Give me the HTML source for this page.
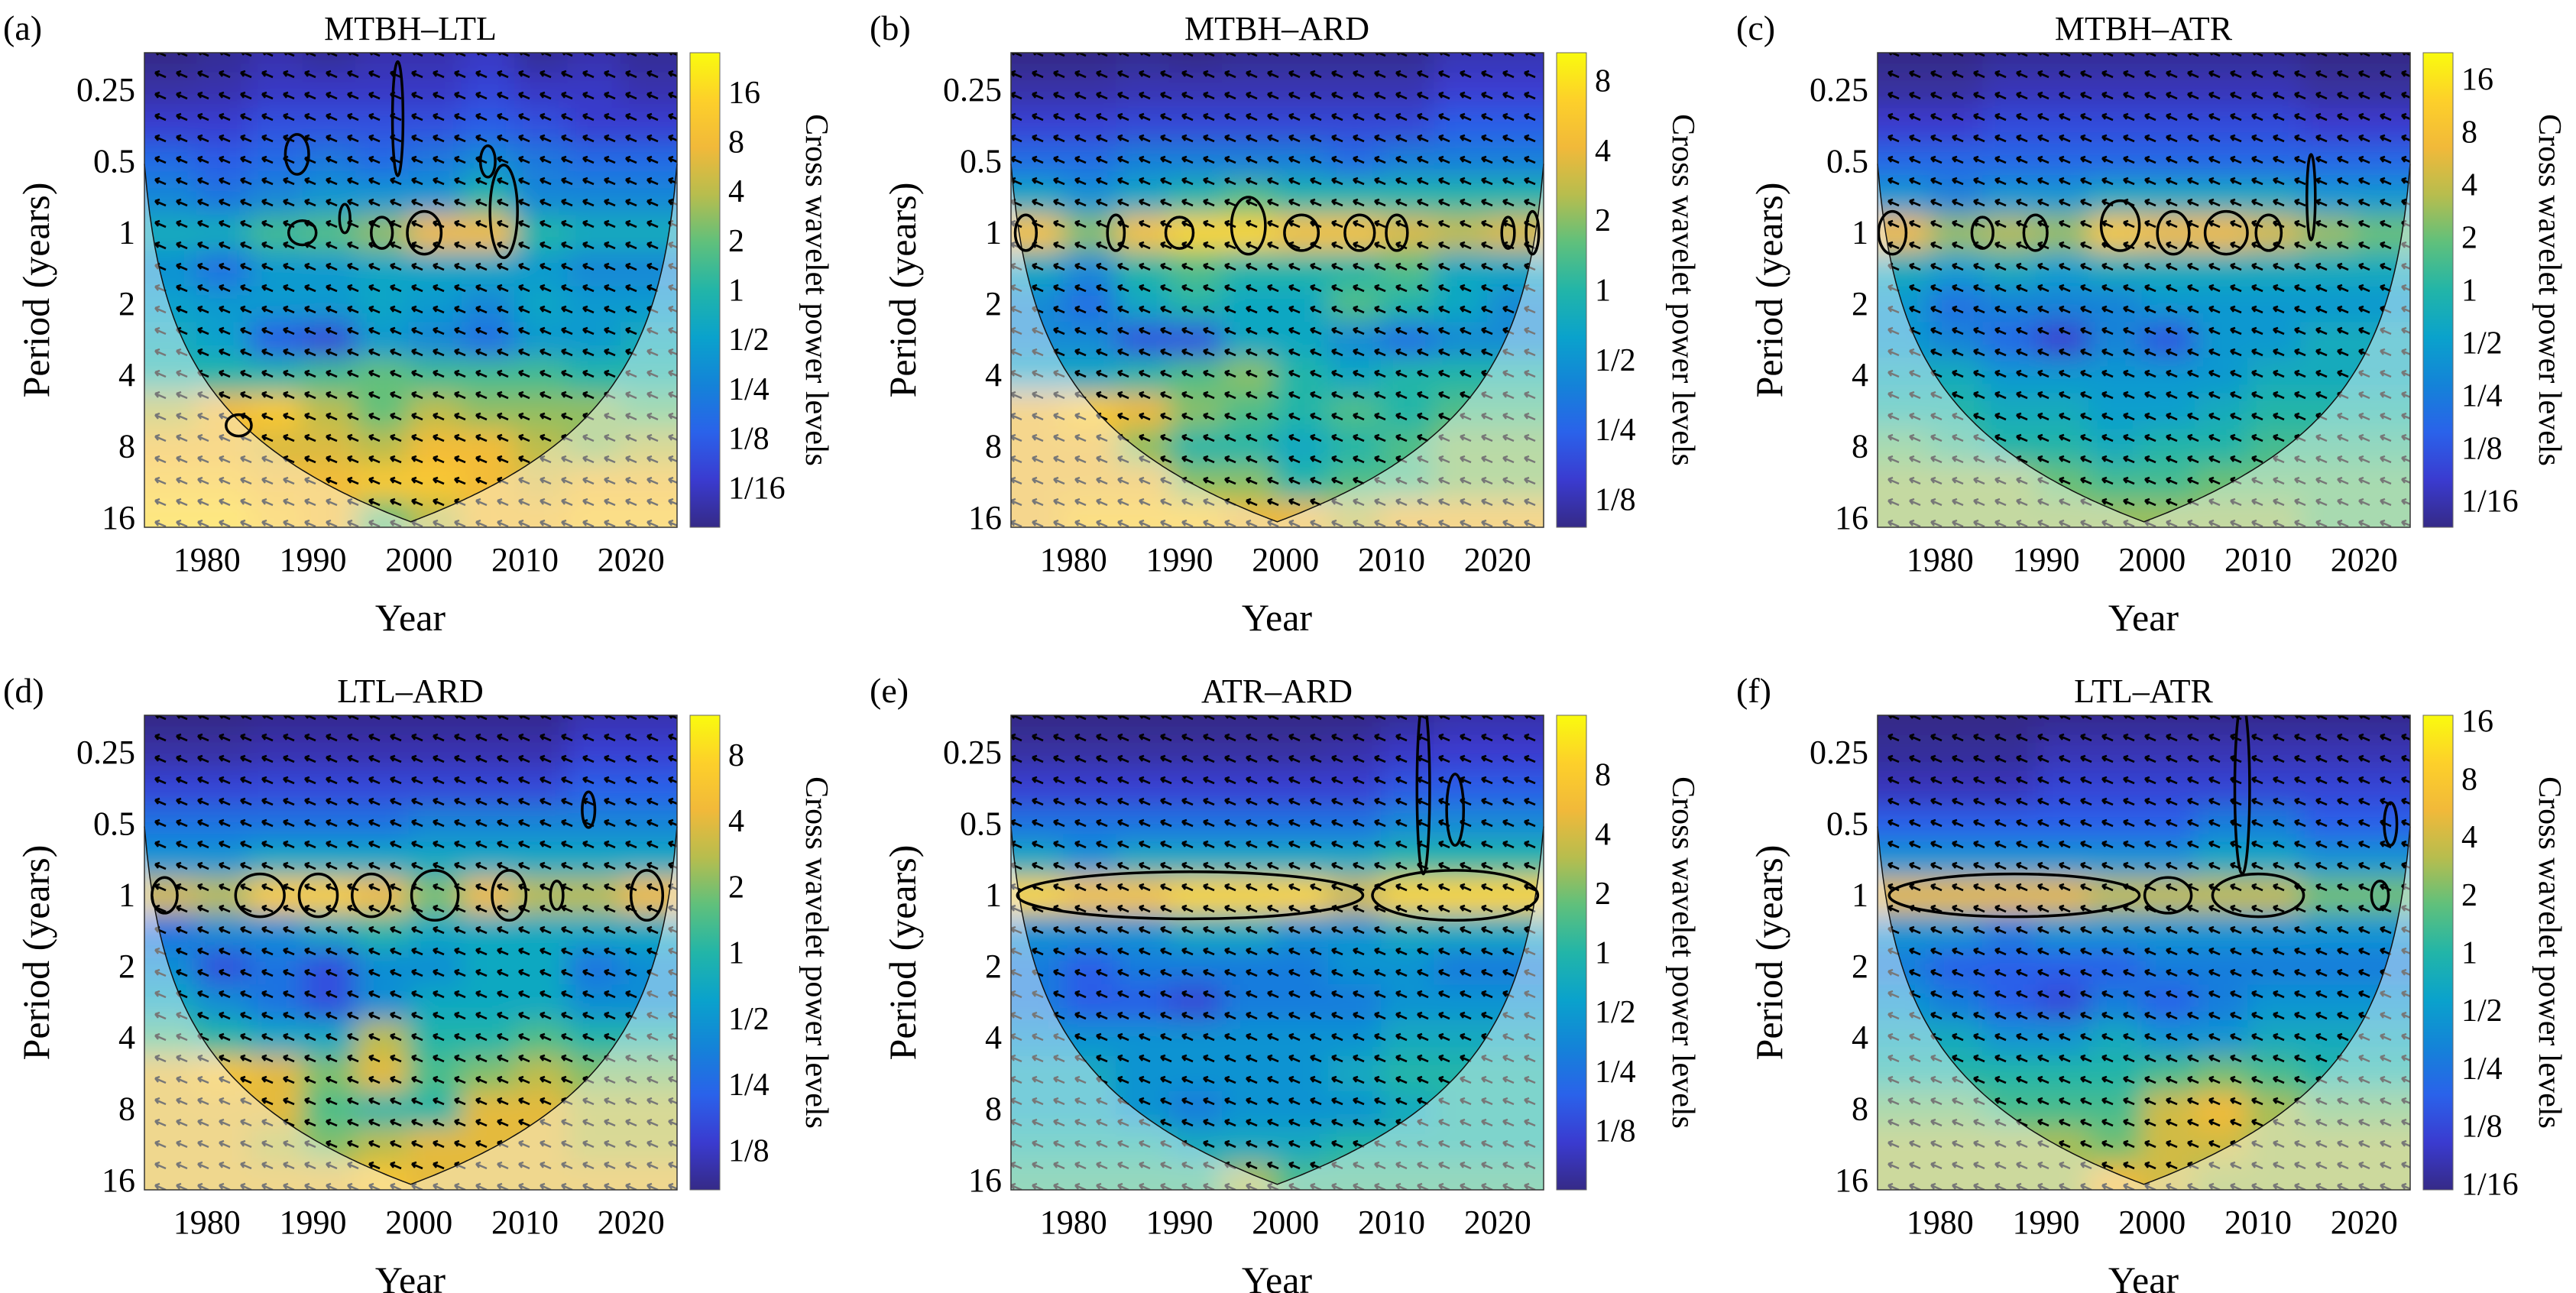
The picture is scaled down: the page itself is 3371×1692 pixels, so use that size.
<!DOCTYPE html>
<html><head><meta charset="utf-8"><style>
html,body{margin:0;padding:0;background:#fff;}
svg{display:block;}
svg text{font-family:"Liberation Serif","DejaVu Serif","Times New Roman",serif;}
</style></head><body>
<svg id="fig" width="3371" height="1692" viewBox="0 0 3371 1692" xmlns="http://www.w3.org/2000/svg">
<defs>
<filter id="blur" x="-5%" y="-5%" width="110%" height="110%"><feGaussianBlur stdDeviation="17 17"/></filter>
<pattern id="arrK" width="28" height="28" patternUnits="userSpaceOnUse"><path d="M21 17 L7 11 M7 11 L13 9 M7 11 L11 16" stroke="#000" stroke-width="2.6" fill="none"/></pattern>
<pattern id="arrG" width="28" height="28" patternUnits="userSpaceOnUse"><path d="M21 17 L7 11 M7 11 L13 9 M7 11 L11 16" stroke="#777" stroke-width="2.4" fill="none"/></pattern>
<linearGradient id="parulaV" x1="0" y1="1" x2="0" y2="0"></linearGradient>
</defs>
</svg>
<script>
// ---- data ----
const panelLetters = ['(a)','(b)','(c)','(d)','(e)','(f)'];
const panelTitles = ['MTBH\u2013LTL','MTBH\u2013ARD','MTBH\u2013ATR','LTL\u2013ARD','ATR\u2013ARD','LTL\u2013ATR'];
const yearTicks = [1980,1990,2000,2010,2020];
const periodTicks = [0.25,0.5,1,2,4,8,16];
const periodTickLabels = ['0.25','0.5','1','2','4','8','16'];
const colCenters = [1976.5,1981.5,1986.5,1991.5,1996.5,2001.5,2006.5,2011.5,2016.5,2021.5];
const rowLog2Periods = [-2.5,-2,-1.5,-1,-0.5,0,0.5,1,1.5,2,2.5,3,3.5,4];
const cbarTicksA = ['16','8','4','2','1','1/2','1/4','1/8','1/16'];
const cbarTicksB = ['8','4','2','1','1/2','1/4','1/8'];
const cbarTicksC = ['16','8','4','2','1','1/2','1/4','1/8','1/16'];
const cbarTicksD = ['8','4','2','1','1/2','1/4','1/8'];
const cbarTicksE = ['8','4','2','1','1/2','1/4','1/8'];
const cbarTicksF = ['16','8','4','2','1','1/2','1/4','1/8','1/16'];
const cbarRanges = [4.8,3.4,4.5,3.6,4.0,4.1];
const powerA = [
[-4.8,-4.6,-4.3,-4.6,-4.3,-4.3,-4,-4.6,-4.3,-4.6],[-4.4,-4.3,-4,-4,-4,-4,-3.6,-4,-4,-4.3],[-3.8,-3.8,-3.3,-3.3,-3.3,-3.3,-3,-3.3,-3.8,-3.8],
[-2.6,-3,-2.6,-2.2,-2.6,-2.2,-1.6,-2.2,-2.6,-2.6],[-1.8,-2.3,-1.8,-1.3,-1.3,-1.3,0,-1.8,-1.8,-1.8],[-0.5,-0.5,0.5,0.8,1.5,3,3,0,-0.5,-0.5],
[-1.5,-2.5,-1.2,-1.2,-0.8,-0.8,-0.8,-1.2,-1.8,-1.8],[-1,-1.2,-1.2,-1.2,-0.8,-1.2,-1.8,-0.8,-1.2,-1.2],[-0.5,-1,-3,-3.5,-1.2,-1.8,-2.5,-1.2,-1.2,-0.5],
[0,0,0,0.5,1,0.5,0.5,0.5,0,0],[2,3,3.5,2,1,2,1.5,1.5,1.5,1],[3,3,2.5,2.5,2,3,3,2,1.5,2],[3.5,3.5,3,3,3.5,3.5,3,2.5,3,3],[4,4,3.5,3,1,2,3,3,3.5,3.5]];
const powerB = [
[-3.4,-3.4,-3.3,-3.4,-3.3,-3.3,-3.3,-3.3,-3,-3],[-3.1,-3.1,-3,-3,-3,-3,-3,-3,-2.7,-2.7],[-2.6,-2.6,-2.5,-2.5,-2.5,-2.5,-2.5,-2.5,-2.1,-2.1],
[-1.8,-1.8,-1.4,-1.4,-1.4,-1.4,-1.8,-1.4,-1.4,-1.4],[-0.5,-1,-0.5,0,0.5,0,0,0,0,0],[2.3,1,2.3,2.8,2.8,2.3,2.3,1.8,1.5,1.8],
[-0.5,-1.2,0,0.5,0,0,0,0.5,-0.5,-0.5],[-1.2,-1.8,-0.5,0,-0.5,-0.5,0.5,0,-0.5,-1.2],[-1.2,-1.2,-2.3,-2.3,-0.5,-0.5,-1.2,-1.8,-1.2,-1.2],
[-0.5,-0.5,0,0.5,1,0,-0.5,0,0,0],[2,2.5,2,1,0.5,0,0.5,0,0.5,0.5],[2,2,1,0,0,-0.5,0,0.5,1,1],[2,2,2,1,1,0,0.5,0.5,1,1],[2,2.5,2.5,2.5,2,2,1.5,2,2,2]];
const powerC = [
[-4.5,-4.5,-4.3,-4.3,-4.3,-4.3,-4.3,-4.3,-4.5,-4.5],[-4.2,-4.2,-3.9,-3.9,-3.9,-3.9,-3.9,-3.9,-4.2,-4.2],[-3.6,-3.6,-3.2,-3.2,-3.2,-3.2,-3.2,-3.2,-3.6,-3.6],
[-2.5,-2.5,-2.5,-2.5,-2.5,-2.5,-2.5,-2.5,-2.5,-2.5],[-1.2,-1.8,-1.2,-1.2,-0.6,-0.6,-0.6,-0.6,-1.2,-1.2],[2.8,1.5,1.8,1.5,3.3,2.8,2.8,2.3,1.5,1],
[-0.5,-1,-0.5,-1,-0.5,-0.5,-0.5,-0.5,-0.5,-0.5],[-1.2,-2.3,-1.8,-1.8,-1.8,-1.2,-1.2,-1.2,-1.2,-1.2],[-1.2,-1.8,-2.5,-3.5,-1.8,-3,-1.2,-1.2,-0.5,-0.5],
[-0.5,-0.5,-1.2,-1.2,-1.2,-1.2,-1.2,-0.5,-0.5,-0.5],[0,0,-0.5,-0.5,-1,-1,-0.5,0,0,0],[1,0.5,0,0,-0.5,0,0,0.5,0.5,0.5],[1.5,1.5,1.5,1,0.5,0.5,1,1,1,1],[1.5,1.5,1.5,1.5,1.5,1.5,1.5,1.5,1,1]];
const powerD = [
[-3.6,-3.6,-3.5,-3.5,-3.5,-3.5,-3.5,-3.5,-3.2,-3.2],[-3.3,-3.3,-3.2,-3.2,-3.2,-3.2,-3.2,-3.2,-2.8,-2.8],[-2.7,-2.7,-2.6,-2.6,-2.6,-2.6,-2.6,-2.6,-2.2,-2.2],
[-1.8,-1.8,-1.8,-1.8,-1.8,-1.4,-1.4,-1.4,-1.4,-1.4],[-1,-1,-0.5,-0.5,-0.5,-0.5,-0.5,-0.5,-0.5,-0.5],[1.8,1.5,2.8,2.8,2.3,1,2.3,1.5,1.5,2.3],
[-1.8,-1.2,-1.2,-0.5,0,-0.5,-0.5,-0.5,-0.5,-0.5],[-1.2,-2.5,-1.8,-2.5,-1.2,-1.2,-0.5,-0.5,-1.8,-1.2],[-0.5,-1.2,-1.8,-2.5,-1.2,-0.5,-0.5,-0.5,-1.2,-1.2],
[0.5,0,-0.5,-0.5,1.5,0,0,0.5,0,0],[2,2.5,2,1,2,0.5,1,1.5,1,1],[2,2,2,0.5,0,0,2,2,1.5,1.5],[2,2,1.5,1,1.5,2,2,2,1.5,1.5],[2,2,2,2,2.5,2,2,2,2,2]];
const powerE = [
[-4,-4,-4,-4,-4,-4,-4,-3.8,-3.6,-3.6],[-3.7,-3.7,-3.7,-3.7,-3.7,-3.7,-3.6,-3.3,-3.2,-3.2],[-3.1,-3.1,-3.1,-3.1,-3.1,-3.1,-3.1,-2.6,-2.5,-2.5],
[-2,-2,-2,-2,-2,-2,-2,-1.4,-1.4,-1.4],[-0.5,-1.2,-0.5,-0.5,-0.5,-0.5,-0.5,0,0,0],[3.3,2.8,2.8,3.3,3.3,3.3,2,3.3,3.3,3.3],
[-1.2,-1.2,-1.2,-0.5,-0.5,-1.2,-1.2,-0.5,-0.5,-0.5],[-1.8,-2.5,-1.8,-1.8,-1.8,-1.8,-1.2,-1.2,-1.8,-1.8],[-1.8,-2.5,-2.5,-3,-1.8,-1.8,-1.8,-1.2,-1.2,-1.2],
[-1.2,-1.2,-1.2,-1.2,-1.2,-1.2,-1.2,-0.5,-0.5,-0.5],[-0.5,-0.5,-1.2,-1.2,-1.2,-1.2,-0.5,0,0,0],[-0.5,-0.5,-1.2,-1.8,-1.2,-1.2,-1.2,-0.5,0,0],[0,0,0,-0.5,-0.5,-0.5,0,0,0,0],[0.5,0.5,0.5,0.5,1.5,0.5,0.5,0.5,0.5,0.5]];
const powerF = [
[-4.1,-4.1,-4.1,-4,-4,-4,-4,-4,-4,-4],[-3.9,-3.9,-3.9,-3.6,-3.6,-3.6,-3.6,-3.6,-3.6,-3.6],[-3.5,-3.5,-3.5,-3.1,-3.1,-3.1,-3.1,-3.1,-3.1,-3.1],
[-2.5,-2.5,-2.5,-2.5,-2.5,-2.5,-1.8,-1.8,-2.5,-2.5],[-1.2,-1.2,-1.2,-1.2,-1.2,-1.2,-0.6,-0.6,-1.2,-1.2],[2.3,2.3,2.3,2.3,1.8,1.8,1.8,1.8,1,1],
[-1.2,-1.2,-1.8,-1.2,-1.2,-1.2,-1.2,-1.2,-1.2,-1.2],[-1.8,-2.5,-2.5,-2.5,-2.5,-1.8,-1.8,-1.8,-1.8,-1.8],[-1.2,-1.8,-2.5,-3,-1.8,-2.5,-1.8,-1.2,-1.2,-1.2],
[-0.5,-0.5,-1.2,-1.2,-0.5,-1.2,-1.2,-0.5,-0.5,-0.5],[0,0,0,0,0,0.5,1,0.5,0,0],[1,1,0.5,0.5,0.5,2,2.5,1.5,1,1],[1.5,1.5,1.5,1.5,1,2,2,1.5,1.5,1.5],[1.5,1.5,1.5,1.5,2.5,2,1.5,1.5,1.5,1.5]];
// significant regions: [year, log2 period, half-width years, half-height octaves]
const sigA = [[1989,0,1.3,0.17],[1996.5,0,1,0.22],[2000.5,0,1.6,0.3],[2008,-0.3,1.3,0.65],[1988.5,-1.1,1.1,0.28],[1998,-1.6,0.5,0.8],[2006.5,-1,0.7,0.22],[1993,-0.2,0.5,0.2],[1983,2.7,1.2,0.15]];
const sigB = [[1975.5,0,1,0.25],[1984,0,0.8,0.25],[1990,0,1.3,0.22],[1996.5,-0.1,1.6,0.4],[2001.5,0,1.6,0.25],[2007,0,1.4,0.25],[2010.5,0,1,0.25],[2021,0,0.6,0.22],[2023.3,0,0.6,0.3]];
const sigC = [[1975.5,0,1.3,0.3],[1984,0,1,0.22],[1989,0,1.1,0.25],[1997,-0.1,1.8,0.35],[2002,0,1.5,0.3],[2007,0,2,0.3],[2011,0,1.2,0.25],[2015,-0.5,0.4,0.6]];
const sigD = [[1976,0,1.2,0.25],[1985,0,2.3,0.3],[1990.5,0,1.8,0.3],[1995.5,0,1.8,0.3],[2001.5,0,2.2,0.35],[2008.5,0,1.6,0.35],[2013,0,0.6,0.2],[2021.5,0,1.5,0.35],[2016,-1.2,0.6,0.25]];
const sigE = [[1991,0,16.3,0.33],[2016,0,7.8,0.35],[2013,-1.5,0.6,1.2],[2016,-1.2,0.8,0.5]];
const sigF = [[1987,0,11.8,0.3],[2001.5,0,2.2,0.25],[2010,0,4.3,0.3],[2021.5,0,0.8,0.2],[2008.5,-1.5,0.7,1.2],[2022.5,-1,0.6,0.3]];
const powers = [powerA,powerB,powerC,powerD,powerE,powerF];
const cbarTicks = [cbarTicksA,cbarTicksB,cbarTicksC,cbarTicksD,cbarTicksE,cbarTicksF];
const sigs = [sigA,sigB,sigC,sigD,sigE,sigF];

// ---- rendering ----
const NS='http://www.w3.org/2000/svg';
const svg=document.getElementById('fig');
const FONT='"Liberation Serif", "DejaVu Serif", serif';
function mk(tag,attrs,parent){const e=document.createElementNS(NS,tag);for(const k in attrs)e.setAttribute(k,attrs[k]);if(tag==='text')e.style.fontFamily=FONT;(parent||svg).appendChild(e);return e;}
const stops=[[0,'#352a87'],[0.1,'#3a3bd0'],[0.2,'#2a62ea'],[0.3,'#1483d8'],[0.4,'#0aa2cc'],[0.5,'#22b5a8'],[0.6,'#5fc07c'],[0.7,'#b7bd4e'],[0.8,'#f1b93a'],[0.9,'#fdd02a'],[1,'#f9fb0e']];
function hex(h){return [1,3,5].map(i=>parseInt(h.substr(i,2),16));}
function parula(t){t=Math.max(0,Math.min(1,t));for(let i=1;i<stops.length;i++){if(t<=stops[i][0]){const a=stops[i-1],b=stops[i];const f=(t-a[0])/(b[0]-a[0]);const ca=hex(a[1]),cb=hex(b[1]);return 'rgb('+ca.map((v,j)=>Math.round(v+(cb[j]-v)*f)).join(',')+')';}}return stops[stops.length-1][1];}
const grad=document.getElementById('parulaV');
stops.forEach(s=>mk('stop',{offset:s[0],'stop-color':s[1]},grad));

const W=697,H=621,YEAR0=1974.1,YEAR1=2024.35,LTOP=-2.525,LBOT=4.13;
const defs=svg.querySelector('defs');
for(let p=0;p<6;p++){
  const col=p%3,row=Math.floor(p/3);
  const x0=189+col*1134,y0=69+row*867;
  const xs=y=>x0+(y-YEAR0)/(YEAR1-YEAR0)*W;
  const ys=l=>y0+(l-LTOP)/(LBOT-LTOP)*H;
  const g=mk('g',{});
  
  
  const cp=mk('clipPath',{id:'clip'+p},defs);mk('rect',{x:x0,y:y0,width:W,height:H},cp);
  let pts=[];for(let i=0;i<=200;i++){const t=YEAR0+(YEAR1-YEAR0)*i/200;const d=Math.min(t-YEAR0,YEAR1-t);const l=Math.log2(0.64*(d+0.8));pts.push([xs(t),Math.min(ys(LBOT),ys(l))]);}
  let coneD='M'+x0+','+y0+' '+pts.map(q=>'L'+q[0].toFixed(1)+','+q[1].toFixed(1)).join(' ')+' L'+(x0+W)+','+y0+' Z';
  const cc=mk('clipPath',{id:'cone'+p},defs);mk('path',{d:coneD},cc);
  const co=mk('clipPath',{id:'outc'+p},defs);mk('path',{d:'M'+x0+','+y0+' h'+W+' v'+H+' h'+(-W)+' Z '+coneD,'clip-rule':'evenodd'},co);
  const hc=mk('g',{'clip-path':'url(#clip'+p+')'},g);
  const hm=mk('g',{filter:'url(#blur)'},hc);
  
  
  const R=cbarRanges[p],P=powers[p];
  const dl=rowLog2Periods[1]-rowLog2Periods[0],dy=colCenters[1]-colCenters[0];
  for(let r=0;r<rowLog2Periods.length;r++)for(let c=0;c<colCenters.length;c++){
    let ya=ys(rowLog2Periods[r]-dl/2),yb=ys(rowLog2Periods[r]+dl/2);
    let xa=xs(colCenters[c]-dy/2),xb=xs(colCenters[c]+dy/2);
    if(r===0)ya-=60; if(r===rowLog2Periods.length-1)yb+=60; if(c===0)xa-=60; if(c===colCenters.length-1)xb+=60;
    const cell=mk('rect',{x:xa.toFixed(1),y:ya.toFixed(1),width:(xb-xa+0.8).toFixed(1),height:(yb-ya+0.8).toFixed(1),fill:parula((P[r][c]+R)/(2*R))},hm);
    
    
  }
  const og=mk('g',{'clip-path':'url(#outc'+p+')'},g);
  mk('rect',{x:x0,y:y0,width:W,height:H,fill:'#fff','fill-opacity':0.42},og);
  mk('rect',{x:x0,y:y0,width:W,height:H,fill:'url(#arrG)'},og);
  const ig=mk('g',{'clip-path':'url(#cone'+p+')'},g);
  const ar=mk('rect',{x:x0,y:y0,width:W,height:H,fill:'url(#arrK)'},ig);
  
  
  const cone=mk('path',{d:'M'+pts.map(q=>q[0].toFixed(1)+','+q[1].toFixed(1)).join(' L'),fill:'none',stroke:'#111','stroke-width':1.5},g);
  
  
  const sg=mk('g',{'clip-path':'url(#clip'+p+')'},g);
  sigs[p].forEach(s=>{
    const cx=xs(s[0]),cy=ys(s[1]);const rx=s[2]/(YEAR1-YEAR0)*W,ry=s[3]/(LBOT-LTOP)*H;
    const e=mk('ellipse',{cx:cx.toFixed(1),cy:cy.toFixed(1),rx:rx.toFixed(1),ry:ry.toFixed(1),fill:'none',stroke:'#000','stroke-width':3.5},sg);
    
    
  });
  mk('rect',{x:x0,y:y0,width:W,height:H,fill:'none',stroke:'#333','stroke-width':1.5},g);
  const lt=mk('text',{x:x0-185,y:y0-17,'font-size':46,'text-anchor':'start'},g);lt.textContent=panelLetters[p];
  
  const tt=mk('text',{x:x0+348,y:y0-17,'font-size':44,'text-anchor':'middle'},g);tt.textContent=panelTitles[p];
  
  periodTicks.forEach((v,i)=>{const t=mk('text',{x:x0-12,y:(ys(Math.log2(v))+14).toFixed(1),'font-size':44,'text-anchor':'end'},g);t.textContent=periodTickLabels[i];
    });
  yearTicks.forEach(v=>{const t=mk('text',{x:xs(v).toFixed(1),y:y0+H+57,'font-size':44,'text-anchor':'middle'},g);t.textContent=v;
    });
  const xt=mk('text',{x:x0+348,y:y0+H+135,'font-size':50,'text-anchor':'middle'},g);xt.textContent='Year';
  
  const yt=mk('text',{x:0,y:0,'font-size':50,'text-anchor':'middle',transform:'translate('+(x0-125)+','+(y0+H/2)+') rotate(-90)'},g);yt.textContent='Period (years)';
  
  const cx0=x0+714;
  const cb=mk('rect',{x:cx0,y:y0,width:39,height:H,fill:'url(#parulaV)',stroke:'#666','stroke-width':1},g);
  
  const ticks=cbarTicks[p];const top=ticks.length===9?4:3;
  ticks.forEach((lab,i)=>{const lv=top-i;const yy=y0+(R-lv)/(2*R)*H;
    const t=mk('text',{x:cx0+50,y:(yy+14).toFixed(1),'font-size':42,'text-anchor':'start'},g);t.textContent=lab;
    });
  const ct=mk('text',{x:0,y:0,'font-size':42,'text-anchor':'middle',transform:'translate('+(cx0+152)+','+(y0+H/2)+') rotate(90)'},g);ct.textContent='Cross wavelet power levels';
  
}
</script>
</body></html>
